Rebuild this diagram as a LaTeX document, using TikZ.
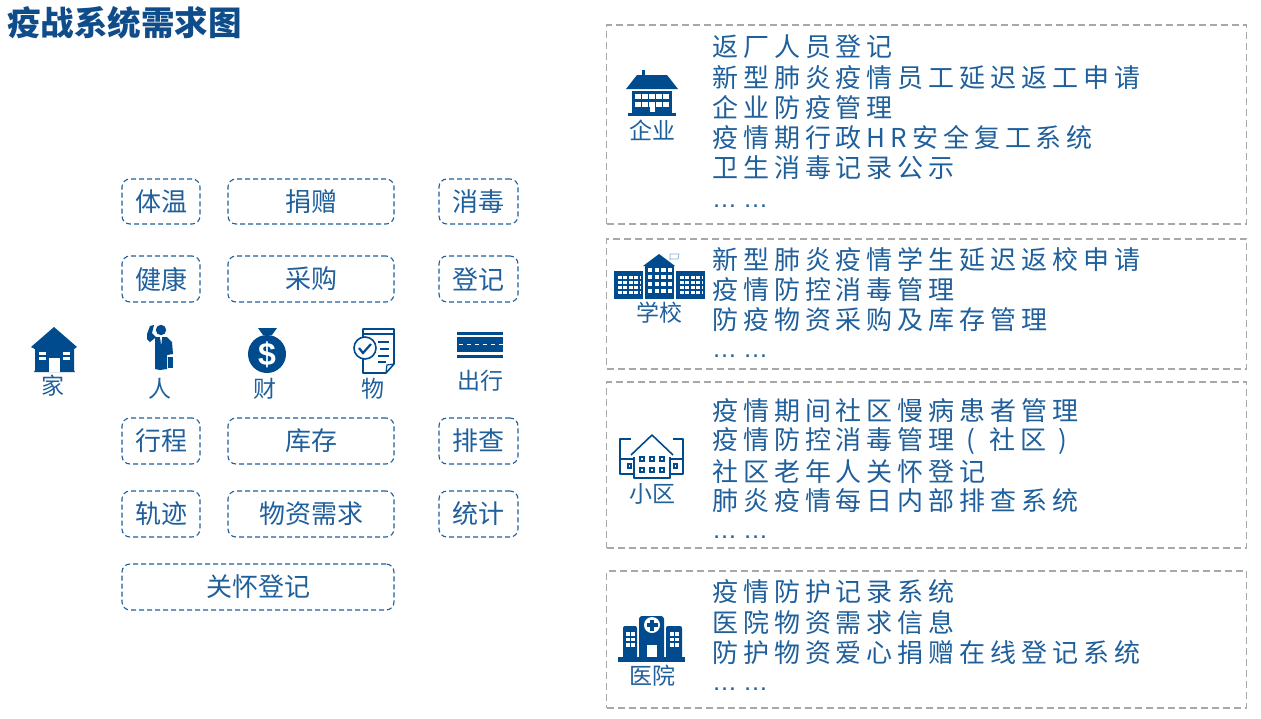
\documentclass[tikz,border=0pt]{standalone}
\usepackage{fontspec}
\setmainfont{Noto Sans CJK SC}
\newfontfamily\dotfont{Liberation Sans}
\definecolor{titleblue}{HTML}{0F4C8A}
\definecolor{textblue}{HTML}{1F5F9B}
\definecolor{iconblue}{HTML}{004B8D}
\definecolor{boxgray}{HTML}{A8A8A8}
\tikzset{
  x=1pt, y=-1pt,
  tagbox/.style={draw=textblue, line width=1.1pt, rounded corners=8pt, dash pattern=on 5pt off 3pt,
    inner sep=0pt, text=textblue, font=\fontsize{26}{26}\selectfont},
  groupbox/.style={draw=boxgray, line width=1.1pt, dash pattern=on 7pt off 4pt, inner sep=0pt},
  iconlabel/.style={inner sep=0pt, text=textblue, font=\fontsize{23}{23}\selectfont},
  itemline/.style={anchor=west, inner sep=0pt, text=textblue,
    font=\fontsize{26}{26}\selectfont\addfontfeature{LetterSpace=19}},
  itemdots/.style={anchor=west, inner sep=0pt, text=textblue, font=\fontsize{25}{25}\dotfont},
  thinicon/.style={draw=iconblue, line width=1.6pt, fill=white, line join=round},
  windowrow/.style={draw=white, line cap=butt},
}
\begin{document}
\begin{tikzpicture}
\useasboundingbox (0,0) rectangle (1261,718);
\node[anchor=west, inner sep=0pt, text=titleblue, font=\fontsize{33.5}{33.5}\selectfont\bfseries] (title) at (7,23) {疫战系统需求图};

% tags on the left
\node[tagbox, minimum width=78pt, minimum height=45pt] (tiwen) at (161,201.5) {体温};
\node[tagbox, minimum width=166pt, minimum height=45pt] (juanzeng) at (311,201.5) {捐赠};
\node[tagbox, minimum width=79pt, minimum height=45pt] (xiaodu) at (478.5,201.5) {消毒};
\node[tagbox, minimum width=78pt, minimum height=46pt] (jiankang) at (161,279) {健康};
\node[tagbox, minimum width=166pt, minimum height=46pt] (caigou) at (311,279) {采购};
\node[tagbox, minimum width=79pt, minimum height=46pt] (dengji) at (478.5,279) {登记};
\node[tagbox, minimum width=78pt, minimum height=46pt] (xingcheng) at (161,441) {行程};
\node[tagbox, minimum width=166pt, minimum height=46pt] (kucun) at (311,441) {库存};
\node[tagbox, minimum width=79pt, minimum height=46pt] (paicha) at (478.5,441) {排查};
\node[tagbox, minimum width=78pt, minimum height=46pt] (guiji) at (161,514) {轨迹};
\node[tagbox, minimum width=166pt, minimum height=46pt] (xuqiu) at (311,514) {物资需求};
\node[tagbox, minimum width=79pt, minimum height=46pt] (tongji) at (478.5,514) {统计};
\node[tagbox, minimum width=272pt, minimum height=46pt] (guanhuai) at (258,587) {关怀登记};

% home
\fill[iconblue] (54,327) -- (77,347) -- (74,349) -- (74,370) -- (75,372) -- (34,372) -- (35,370) -- (35,349) -- (31,347) -- cycle;
\fill[white] (49,372) rectangle (60,358);
\fill[white] (39,352) rectangle (46,355);
\fill[white] (39,357) rectangle (46,360);
\fill[white] (63,352) rectangle (70,355);
\fill[white] (63,357) rectangle (70,360);
\node[iconlabel] (jia) at (53,386) {家};

% person
\fill[iconblue] (161,330) circle (5.2);
\fill[iconblue] (155,338) -- (150,342) -- (147,339) -- (147,334) -- (150,326) -- (154,325) -- (152,333) -- (156,337) -- (167,337) -- (172,342) -- (173,354) -- (167,355) -- (167,369) -- (160,370) -- (155,369) -- cycle;
\fill[white] (160,337) -- (162,337) -- (161.5,343) -- (161,344) -- cycle;
\fill[iconblue] (168,357) rectangle (173,368);
\node[iconlabel] (ren) at (160,389) {人};

% money bag
\fill[iconblue] (258,328) -- (277,328) -- (272,335) -- (263,335) -- cycle;
\fill[iconblue] (267,354) circle (19);
\node[inner sep=0pt, text=white, font=\fontsize{32}{32}\dotfont\bfseries] (dollar) at (267,355) {\$};
\node[iconlabel] (cai) at (265,389) {财};

% checklist sheet
\draw[thinicon] (363,342) -- (363,329) -- (394,329) -- (394,364) -- (386,373) -- (363,373) -- (363,358);
\draw[iconblue, line width=1.2pt] (364,334) -- (393,334);
\draw[iconblue, line width=1.2pt] (386,373) -- (387,365) -- (394,364);
\draw[iconblue, line width=1.2pt] (378,342) -- (389,342) (380,349) -- (389,349) (378,356) -- (389,356) (378,362) -- (386,362);
\draw[thinicon] (365,348) circle (11);
\draw[iconblue, line width=2.2pt] (359,348) -- (363,353) -- (371,344);
\node[iconlabel] (wu) at (373,389) {物};

% road
\fill[iconblue] (457,332) rectangle (503,335);
\fill[iconblue] (457,337) rectangle (503,352);
\fill[iconblue] (457,355) rectangle (503,358);
\draw[windowrow, line width=1.8pt, dash pattern=on 4pt off 4pt] (459,344.5) -- (503,344.5);
\node[iconlabel] (chuxing) at (480,381) {出行};

% groups on the right
\node[groupbox, minimum width=640pt, minimum height=199pt] (qiye) at (926.5,124.5) {};
\node[groupbox, minimum width=640pt, minimum height=130pt] (xuexiao) at (926.5,304) {};
\node[groupbox, minimum width=640pt, minimum height=166pt] (xiaoqu) at (926.5,465) {};
\node[groupbox, minimum width=640pt, minimum height=137pt] (yiyuan) at (926.5,639.5) {};

% company
\fill[iconblue] (642,70) rectangle (645,76);
\fill[iconblue] (637,75) -- (667,75) -- (678,89) -- (626,89) -- cycle;
\fill[iconblue] (632,91) rectangle (672,113);
\fill[iconblue] (628,113) rectangle (676,116);
\draw[windowrow, line width=5pt, dash pattern=on 5.6pt off 1.5pt] (635,96) -- (670,96);
\draw[windowrow, line width=5pt, dash pattern=on 5.6pt off 1.5pt] (635,104) -- (670,104);
\fill[white] (649.5,102) rectangle (654.5,112);
\node[iconlabel] (qiyelabel) at (652,130) {企业};
\node[itemline] (qiye1) at (712,47) {返厂人员登记};
\node[itemline] (qiye2) at (712,78) {新型肺炎疫情员工延迟返工申请};
\node[itemline] (qiye3) at (712,108) {企业防疫管理};
\node[itemline] (qiye4) at (712,138) {疫情期行政HR安全复工系统};
\node[itemline] (qiye5) at (712,168) {卫生消毒记录公示};
\node[itemdots] (qiye6) at (712,206) {…\hspace{6pt}…};

% school
\fill[iconblue] (614,271) rectangle (643,299);
\fill[iconblue] (676,271) rectangle (705,299);
\fill[iconblue] (645,266) rectangle (674,299);
\fill[iconblue] (643,266) -- (659,254) -- (675,266) -- cycle;
\draw[iconblue!45, line width=0.8pt] (670,260) -- (670,254) -- (679,254) -- (678,259) -- (670,259);
\draw[windowrow, line width=3.3pt, dash pattern=on 3.8pt off 1.6pt] (618,277.3) -- (640,277.3);
\draw[windowrow, line width=3.3pt, dash pattern=on 3.8pt off 1.6pt] (618,282.3) -- (640,282.3);
\draw[windowrow, line width=3.3pt, dash pattern=on 3.8pt off 1.6pt] (618,287.3) -- (640,287.3);
\draw[windowrow, line width=3.3pt, dash pattern=on 3.8pt off 1.6pt] (618,292.3) -- (640,292.3);
\draw[windowrow, line width=3.3pt, dash pattern=on 3.8pt off 1.6pt] (680,277.3) -- (702,277.3);
\draw[windowrow, line width=3.3pt, dash pattern=on 3.8pt off 1.6pt] (680,282.3) -- (702,282.3);
\draw[windowrow, line width=3.3pt, dash pattern=on 3.8pt off 1.6pt] (680,287.3) -- (702,287.3);
\draw[windowrow, line width=3.3pt, dash pattern=on 3.8pt off 1.6pt] (680,292.3) -- (702,292.3);
\draw[windowrow, line width=4pt, dash pattern=on 4.4pt off 2.2pt] (648,270) -- (673,270);
\draw[windowrow, line width=4pt, dash pattern=on 4.4pt off 2.2pt] (648,277) -- (673,277);
\draw[windowrow, line width=4pt, dash pattern=on 4.4pt off 2.2pt] (648,284) -- (673,284);
\draw[windowrow, line width=4pt, dash pattern=on 4.4pt off 2.2pt] (648,291) -- (673,291);
\node[iconlabel] (xuexiaolabel) at (659,313) {学校};
\node[itemline] (xuexiao1) at (712,260) {新型肺炎疫情学生延迟返校申请};
\node[itemline] (xuexiao2) at (712,290) {疫情防控消毒管理};
\node[itemline] (xuexiao3) at (712,320) {防疫物资采购及库存管理};
\node[itemdots] (xuexiao4) at (712,356) {…\hspace{6pt}…};

% residential block
\draw[thinicon] (631,439) -- (620,439) -- (620,474) -- (683,474) -- (683,439) -- (673,439);
\draw[thinicon] (634,457) -- (634,478) -- (670,478) -- (670,457);
\draw[thinicon] (631,455) -- (652,435) -- (673,455);
\draw[iconblue, line width=1.4pt] (620,459) -- (634,459) (670,459) -- (683,459);
\draw[iconblue, line width=1.2pt] (628,464) rectangle (631,468);
\draw[iconblue, line width=1.2pt] (674,464) rectangle (677,468);
\draw[iconblue, line width=1.2pt] (640,457) rectangle (644,461);
\draw[iconblue, line width=1.2pt] (650,457) rectangle (654,461);
\draw[iconblue, line width=1.2pt] (660,457) rectangle (664,461);
\draw[iconblue, line width=1.2pt] (640,468) rectangle (644,472);
\draw[iconblue, line width=1.2pt] (650,468) rectangle (654,472);
\draw[iconblue, line width=1.2pt] (660,468) rectangle (664,472);
\node[iconlabel] (xiaoqulabel) at (652,494) {小区};
\node[itemline] (xiaoqu1) at (712,411) {疫情期间社区慢病患者管理};
\node[itemline] (xiaoqu2) at (712,441) {疫情防控消毒管理\hspace{12pt}(\hspace{14pt}社区\hspace{12pt})};
\node[itemline] (xiaoqu3) at (712,472) {社区老年人关怀登记};
\node[itemline] (xiaoqu4) at (712,501) {肺炎疫情每日内部排查系统};
\node[itemdots] (xiaoqu5) at (712,537) {…\hspace{6pt}…};

% hospital
\fill[iconblue] (618,657) rectangle (685,662);
\fill[iconblue, rounded corners=3pt] (639,660) -- (639,616) -- (664,616) -- (664,660) -- cycle;
\fill[iconblue, rounded corners=2pt] (623,660) -- (623,626) -- (637,626) -- (637,660) -- cycle;
\fill[iconblue, rounded corners=2pt] (666,660) -- (666,626) -- (682,626) -- (682,660) -- cycle;
\fill[white] (652,625) circle (8);
\fill[iconblue] (650,619.5) rectangle (654,630.5);
\fill[iconblue] (646.5,623) rectangle (657.5,627);
\fill[white] (647,645) rectangle (657,657);
\draw[windowrow, line width=3.6pt, dash pattern=on 3.6pt off 1.8pt] (626,634) -- (635,634);
\draw[windowrow, line width=3.6pt, dash pattern=on 3.6pt off 1.8pt] (626,639.5) -- (635,639.5);
\draw[windowrow, line width=3.6pt, dash pattern=on 3.6pt off 1.8pt] (626,645) -- (635,645);
\draw[windowrow, line width=3.6pt, dash pattern=on 3.6pt off 1.8pt] (670,634) -- (679,634);
\draw[windowrow, line width=3.6pt, dash pattern=on 3.6pt off 1.8pt] (670,639.5) -- (679,639.5);
\draw[windowrow, line width=3.6pt, dash pattern=on 3.6pt off 1.8pt] (670,645) -- (679,645);
\node[iconlabel] (yiyuanlabel) at (652,676) {医院};
\node[itemline] (yiyuan1) at (712,592) {疫情防护记录系统};
\node[itemline] (yiyuan2) at (712,623) {医院物资需求信息};
\node[itemline] (yiyuan3) at (712,653) {防护物资爱心捐赠在线登记系统};
\node[itemdots] (yiyuan4) at (712,689) {…\hspace{6pt}…};
\end{tikzpicture}
\end{document}
